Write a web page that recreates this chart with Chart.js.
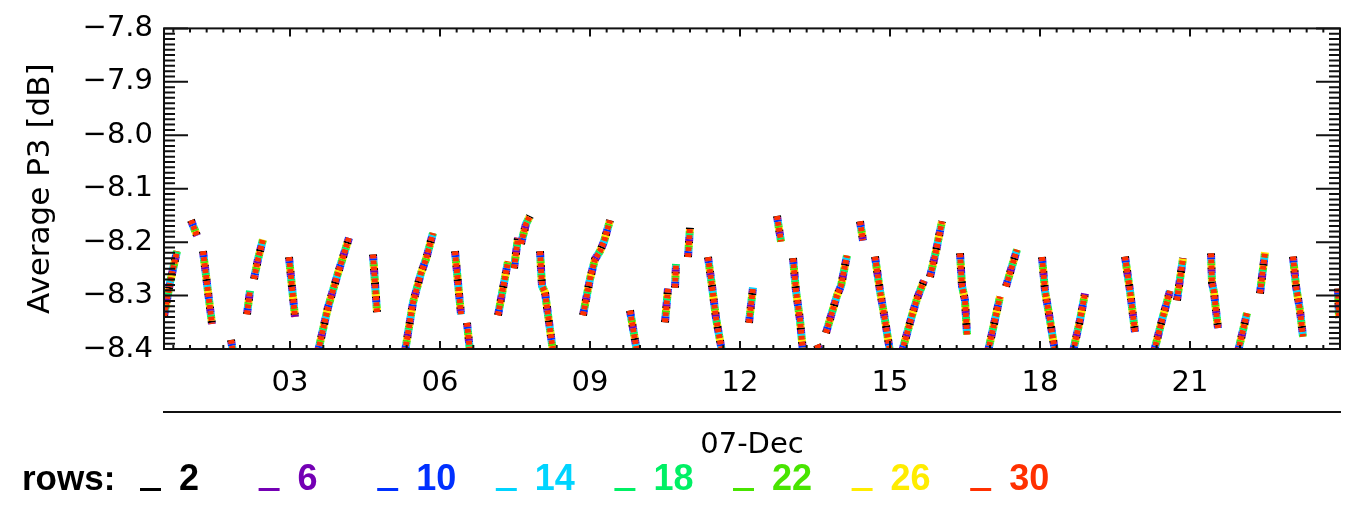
<!DOCTYPE html>
<html>
<head>
<meta charset="utf-8">
<title>Average P3 [dB] - 07-Dec</title>
<script src="https://cdn.jsdelivr.net/npm/chart.js@4.4.1/dist/chart.umd.min.js"></script>
<style>
  html, body { margin: 0; padding: 0; background: #fff; }
  #wrap { position: relative; width: 1351px; height: 507px; }
</style>
</head>
<body>
<div id="wrap"><canvas id="grafico"></canvas></div>
<script>
// === Dados ===
const rows = ["2", "6", "10", "14", "18", "22", "26", "30"];
const rowColors = ["#000000", "#7400b4", "#0030ff", "#00d4ff", "#00f064", "#48e400", "#ffec00", "#ff3000"];

// hora do dia (07-Dec) e P3 médio; null separa os trechos
const hours = [
  0.48, 0.60, 0.74, null,
  1.02, 1.14, null,
  1.26, 1.44, null,
  1.82, 1.86, null,
  2.14, 2.20, null,
  2.28, 2.36, 2.46, null,
  2.98, 3.10, null,
  3.56, 3.76, 3.96, 4.10, 4.18, null,
  4.66, 4.74, null,
  5.30, 5.46, 5.62, 5.72, 5.86, null,
  6.30, 6.42, null,
  6.54, 6.60, null,
  7.16, 7.36, null,
  7.48, 7.56, null,
  7.62, 7.72, 7.80, null,
  8.00, 8.04, 8.10, 8.26, null,
  8.86, 9.00, 9.10, 9.20, 9.28, 9.40, null,
  9.80, 9.94, null,
  10.50, 10.56, null,
  10.70, 10.72, null,
  10.96, 11.00, null,
  11.36, 11.44, 11.52, 11.64, null,
  12.18, 12.26, null,
  12.74, 12.82, null,
  13.06, 13.12, 13.20, 13.26, null,
  13.54, 13.60, null,
  13.72, 13.94, 14.02, 14.14, null,
  14.40, 14.46, null,
  14.70, 14.80, 14.90, 15.00, null,
  15.24, 15.44, 15.54, 15.68, null,
  15.80, 15.92, 16.04, null,
  16.40, 16.44, 16.50, 16.54, null,
  16.96, 17.20, null,
  17.32, 17.44, 17.54, null,
  18.04, 18.10, 18.20, 18.30, null,
  18.66, 18.80, 18.90, null,
  19.70, 19.80, 19.90, null,
  20.28, 20.44, 20.60, null,
  20.74, 20.86, null,
  21.42, 21.44, 21.48, 21.56, null,
  21.96, 22.14, null,
  22.40, 22.50, null,
  23.06, 23.12, 23.20, 23.26, null,
  23.96, 23.98
];
const p3 = [
  -8.339, -8.276, -8.217, null,
  -8.159, -8.188, null,
  -8.217, -8.353, null,
  -8.383, -8.405, null,
  -8.335, -8.291, null,
  -8.269, -8.232, -8.195, null,
  -8.228, -8.340, null,
  -8.405, -8.322, -8.258, -8.216, -8.192, null,
  -8.223, -8.331, null,
  -8.405, -8.313, -8.258, -8.232, -8.183, null,
  -8.217, -8.335, null,
  -8.351, -8.405, null,
  -8.337, -8.236, null,
  -8.249, -8.192, null,
  -8.203, -8.166, -8.151, null,
  -8.217, -8.282, -8.294, -8.405, null,
  -8.337, -8.269, -8.232, -8.217, -8.199, -8.159, null,
  -8.328, -8.405, null,
  -8.350, -8.287, null,
  -8.285, -8.241, null,
  -8.228, -8.173, null,
  -8.228, -8.282, -8.342, -8.405, null,
  -8.351, -8.285, null,
  -8.151, -8.199, null,
  -8.230, -8.291, -8.346, -8.405, null,
  -8.392, -8.405, null,
  -8.370, -8.300, -8.282, -8.225, null,
  -8.161, -8.197, null,
  -8.227, -8.291, -8.346, -8.405, null,
  -8.405, -8.337, -8.306, -8.272, null,
  -8.265, -8.217, -8.161, null,
  -8.221, -8.282, -8.309, -8.373, null,
  -8.405, -8.302, null,
  -8.283, -8.245, -8.214, null,
  -8.228, -8.291, -8.346, -8.405, null,
  -8.405, -8.346, -8.296, null,
  -8.227, -8.291, -8.368, null,
  -8.405, -8.346, -8.291, null,
  -8.309, -8.230, null,
  -8.221, -8.276, -8.294, -8.361, null,
  -8.405, -8.333, null,
  -8.296, -8.219, null,
  -8.227, -8.282, -8.328, -8.377, null,
  -8.287, -8.342
];

const hourTicks = [3, 6, 9, 12, 15, 18, 21];
const hourLabels = ["03", "06", "09", "12", "15", "18", "21"];
const p3Ticks = [-8.4, -8.3, -8.2, -8.1, -8.0, -7.9, -7.8];
const p3Labels = ["\u22128.4", "\u22128.3", "\u22128.2", "\u22128.1", "\u22128.0", "\u22127.9", "\u22127.8"];
const dayTicks = [12.24];
const dayLabels = ["07-Dec"];

// === Plugins ===
// Caixa com marcas internas (estilo IDL) nos quatro lados
const caixaTicks = {
  id: "caixaTicks",
  afterDatasetsDraw(chart) {
    const { ctx, chartArea: a, scales: { x, y } } = chart;
    ctx.save();
    ctx.strokeStyle = "#111";
    ctx.lineWidth = 2;
    ctx.strokeRect(a.left, a.top, a.right - a.left, a.bottom - a.top);
    ctx.beginPath();
    // marcas menores a cada 20 min, maiores a cada 3 h
    for (let m = Math.ceil(x.min * 3); m <= Math.floor(x.max * 3); m++) {
      const px = x.getPixelForValue(m / 3);
      const len = m % 9 === 0 ? 8 : 4;
      ctx.moveTo(px, a.bottom); ctx.lineTo(px, a.bottom - len);
      ctx.moveTo(px, a.top); ctx.lineTo(px, a.top + len);
    }
    for (let k = Math.round(y.min * 100); k <= Math.round(y.max * 100); k++) {
      const py = y.getPixelForValue(k / 100);
      const len = k % 10 === 0 ? 24 : 11;
      ctx.moveTo(a.left, py); ctx.lineTo(a.left + len, py);
      ctx.moveTo(a.right, py); ctx.lineTo(a.right - len, py);
    }
    ctx.stroke();
    ctx.restore();
  }
};

// Legenda "rows:" na linha de baixo
const legendaRows = {
  id: "legendaRows",
  afterDraw(chart) {
    const ctx = chart.ctx;
    ctx.save();
    ctx.textBaseline = "alphabetic";
    ctx.fillStyle = "#000";
    ctx.font = 'bold 35px "Liberation Sans"';
    ctx.fillText("rows:", 22, 490);
    ctx.font = 'bold 36px "Liberation Sans"';
    chart.data.datasets.forEach((ds, i) => {
      const x0 = 140 + i * 118.6;
      ctx.fillStyle = ds.borderColor;
      ctx.fillRect(x0, 488, 21, 3);
      ctx.fillText(ds.label, x0 + 39, 490);
    });
    ctx.restore();
  }
};

// === Gráfico ===
const pontos = hours.map((h, i) => ({ x: h, y: p3[i] }));
const fonteTicks = { family: "DejaVu Sans", size: 29 };

// as 8 linhas quase coincidem; traço interrompido para que as cores se misturem
const datasets = rows.map((r, i) => {
  const ultimo = i === rows.length - 1;
  return {
    label: r,
    data: pontos,
    borderColor: rowColors[i],
    backgroundColor: rowColors[i],
    borderWidth: ultimo ? 6 : 8,
    borderDash: ultimo ? [4, 2] : [2, 12],
    borderDashOffset: ultimo ? 0 : -2 * i,
    pointRadius: 0,
    tension: 0,
    spanGaps: false,
    order: rows.length - 1 - i
  };
});

new Chart(document.getElementById("grafico"), {
  type: "line",
  data: { datasets },
  options: {
    responsive: true,
    maintainAspectRatio: false,
    animation: false,
    events: [],
    layout: { padding: { top: 23, right: 11, left: 0, bottom: 45 } },
    plugins: { legend: { display: false }, tooltip: { enabled: false } },
    scales: {
      x: {
        type: "linear",
        position: "bottom",
        weight: 0,
        min: 0.48,
        max: 24,
        afterBuildTicks: s => { s.ticks = hourTicks.map(v => ({ value: v })); },
        ticks: {
          callback: (v, i) => hourLabels[i],
          font: fonteTicks, color: "#000", padding: 17,
          maxRotation: 0, autoSkip: false
        },
        grid: { display: false, drawTicks: false },
        border: { display: false },
        afterFit: s => { s.height = 63; }
      },
      x2: {
        type: "linear",
        position: "bottom",
        weight: 1,
        min: 0.48,
        max: 24,
        afterBuildTicks: s => { s.ticks = dayTicks.map(v => ({ value: v })); },
        ticks: {
          callback: (v, i) => dayLabels[i],
          font: fonteTicks, color: "#000", padding: 16,
          maxRotation: 0, autoSkip: false
        },
        grid: { display: false, drawTicks: false },
        border: { display: true, color: "#111", width: 2 },
        afterFit: s => { s.height = 50; }
      },
      y: {
        type: "linear",
        min: -8.4,
        max: -7.8,
        afterBuildTicks: s => { s.ticks = p3Ticks.map(v => ({ value: v })); },
        ticks: {
          callback: (v, i) => p3Labels[i],
          font: fonteTicks, color: "#000", padding: 11, autoSkip: false
        },
        grid: { display: false, drawTicks: false },
        border: { display: false },
        title: {
          display: true,
          text: "Average P3 [dB]",
          font: { family: "DejaVu Sans", size: 31 },
          color: "#000",
          padding: { top: 22, bottom: 0 }
        },
        afterFit: s => { s.width = 164; }
      }
    }
  },
  plugins: [caixaTicks, legendaRows]
});
</script>
</body>
</html>
